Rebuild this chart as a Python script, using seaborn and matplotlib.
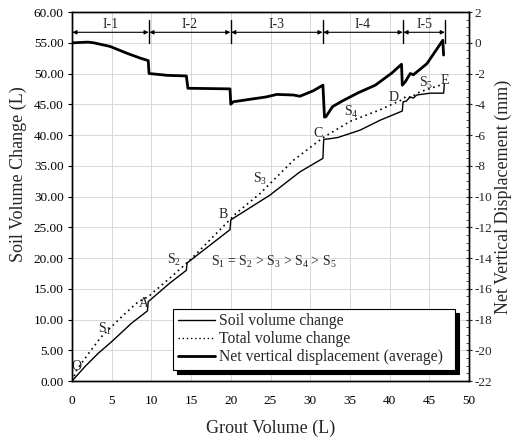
import numpy as np
import pandas as pd
import matplotlib
matplotlib.use("Agg")
import matplotlib.pyplot as plt
from matplotlib.lines import Line2D
from matplotlib.ticker import MultipleLocator, FormatStrFormatter
import seaborn as sns

# ---------------- data ----------------
soil_x = [0, 1.6, 3.3, 5.0, 7.5, 9.5, 9.6, 12.3, 14.4, 14.5, 17.0, 19.9, 20.0, 24.9,
          28.7, 31.6, 31.7, 32.5, 33.5, 36.3, 38.8, 41.6, 41.7, 42.1, 42.6, 43.0, 43.4,
          45.1, 46.8, 46.9]
soil_y = [0, 2.3, 4.5, 6.4, 9.4, 11.4, 12.9, 15.9, 18.0, 19.2, 21.7, 24.6, 26.2, 30.2,
          34.0, 36.2, 39.3, 39.4, 39.6, 40.8, 42.4, 43.9, 45.4, 45.5, 46.2, 46.0, 46.5,
          46.8, 46.8, 48.3]

total_x = [0, 0.6, 2.1, 3.7, 6.3, 8.35, 9.6, 13.0, 14.9, 20.7, 23.7, 27.9, 31.65,
           35.0, 38.8, 41.5, 42.1, 42.6, 43.8, 46.6]
total_y = [0, 1.8, 4.5, 7.2, 10.5, 12.9, 13.7, 17.5, 19.7, 27.3, 30.5, 35.9, 39.6,
           42.2, 44.1, 45.7, 46.3, 46.1, 47.0, 48.2]

disp_x = [0, 0.3, 2.0, 2.7, 4.8, 6.9, 8.6, 9.6, 9.7, 12.0, 14.4, 14.6, 19.9, 20.0,
          20.3, 24.5, 25.8, 27.9, 28.7, 30.4, 31.6, 31.8, 32.0, 32.8, 34.0, 36.1,
          38.2, 40.3, 41.5, 41.6, 42.0, 42.6, 43.0, 44.7, 46.7, 46.8]
disp_mm = [0.00, 0.00, 0.04, 0.00, -0.24, -0.68, -1.00, -1.16, -2.00, -2.12, -2.16,
           -2.96, -3.00, -4.00, -3.84, -3.52, -3.36, -3.40, -3.48, -3.12, -2.76,
           -4.84, -4.80, -4.16, -3.80, -3.24, -2.76, -1.96, -1.40, -2.76, -2.52,
           -2.00, -2.08, -1.36, 0.16, -0.80]

zone_bounds = [0, 9.7, 20.0, 31.6, 41.7, 47.0]
zone_labels = ["I-1", "I-2", "I-3", "I-4", "I-5"]

point_labels = ["O", "A", "B", "C", "D", "E"]
point_x = [0.6, 9.0, 19.1, 31.0, 40.5, 47.0]
point_y = [2.3, 12.6, 27.0, 40.2, 46.1, 48.9]

slope_labels = ["S$_1$", "S$_2$", "S$_3$", "S$_4$", "S$_5$"]
slope_x = [4.2, 12.8, 23.7, 35.2, 44.6]
slope_y = [8.4, 19.7, 32.8, 43.8, 48.5]

# ---------------- style ----------------
sns.set_style("white")
plt.rcParams["font.family"] = ["Liberation Serif", "DejaVu Serif"]
plt.rcParams["mathtext.fontset"] = "custom"
plt.rcParams["mathtext.rm"] = "Liberation Serif"
plt.rcParams["mathtext.it"] = "Liberation Serif"
plt.rcParams["axes.unicode_minus"] = False

fig = plt.figure(figsize=(5.17, 4.40), dpi=100)
ax = fig.add_axes([72 / 517, 1 - 381 / 440, 397 / 517, 369 / 440])
ax2 = ax.twinx()

df_soil = pd.DataFrame({"x": soil_x, "y": soil_y})
df_total = pd.DataFrame({"x": total_x, "y": total_y})
df_disp = pd.DataFrame({"x": disp_x, "y": disp_mm})

sns.lineplot(data=df_soil, x="x", y="y", ax=ax, color="black", lw=1.0,
             sort=False, estimator=None)
sns.lineplot(data=df_total, x="x", y="y", ax=ax, color="black", lw=1.2,
             linestyle=(0, (1, 2.2)), sort=False, estimator=None)
sns.lineplot(data=df_disp, x="x", y="y", ax=ax2, color="black", lw=2.0,
             sort=False, estimator=None)

# axes limits / ticks
ax.set_xlim(0, 50)
ax.set_ylim(0, 60)
ax.xaxis.set_major_locator(MultipleLocator(5))
ax.yaxis.set_major_locator(MultipleLocator(5))
ax.yaxis.set_major_formatter(FormatStrFormatter("%.2f"))
ax.grid(True, color="#d8d8d8", lw=0.7)
ax.set_axisbelow(True)
ax.tick_params(axis="both", direction="out", length=3, width=0.8,
               labelsize=9.5, colors="black", pad=3)
ax.tick_params(axis="x", pad=7)

ax2.set_ylim(-22, 2)
ax2.yaxis.set_major_locator(MultipleLocator(2))
ax2.yaxis.set_minor_locator(MultipleLocator(0.5))
ax2.tick_params(axis="y", which="major", direction="inout", length=5, width=0.8,
                labelsize=9.5, pad=1.5)
ax2.tick_params(axis="y", which="minor", direction="in", length=2.5, width=0.6)
ax2.grid(False)

for a in (ax, ax2):
    for s in a.spines.values():
        s.set_color("black")
        s.set_linewidth(1.0)
        s.set_visible(True)

ax.set_xlabel("Grout Volume (L)", fontsize=13, labelpad=9)
ax.set_ylabel("Soil Volume Change (L)", fontsize=13, labelpad=6)
ax.yaxis.set_label_coords(-0.113, 0.56)
ax2.set_ylabel("Net Vertical Displacement (mm)", fontsize=13, labelpad=2)

# zone annotations at top
for b in zone_bounds[1:]:
    ax.plot([b, b], [54.9, 58.7], color="black", lw=1.0, clip_on=False)
for i, lab in enumerate(zone_labels):
    x0, x1 = zone_bounds[i], zone_bounds[i + 1]
    ax.annotate("", xy=(x0 + 0.05, 56.7), xytext=(x1 - 0.05, 56.7),
                arrowprops=dict(arrowstyle="<|-|>", color="black", lw=0.8,
                                mutation_scale=6, shrinkA=0, shrinkB=0))
    ax.text((x0 + x1) / 2, 57.95, lab, ha="center", va="center", fontsize=10)

# point labels
for lab, px, py in zip(point_labels, point_x, point_y):
    ax.text(px, py, lab, ha="center", va="center", fontsize=10)
for lab, px, py in zip(slope_labels, slope_x, slope_y):
    ax.text(px, py, lab, ha="center", va="center", fontsize=10)
ax.text(25.4, 19.4, "S$_1$ = S$_2$ > S$_3$ > S$_4$ > S$_5$", ha="center",
        va="center", fontsize=10)

# legend
handles = [
    Line2D([], [], color="black", lw=1.0),
    Line2D([], [], color="black", lw=1.0, linestyle=(0, (1, 2))),
    Line2D([], [], color="black", lw=2.0),
]
labels = ["Soil volume change", "Total volume change",
          "Net vertical displacement (average)"]
leg = ax.legend(handles, labels, loc="lower left",
                bbox_to_anchor=(0.255, 0.03, 0.71, 0.17), mode="expand",
                fontsize=11.3, frameon=True, fancybox=False,
                shadow={"color": "black", "alpha": 1.0, "ox": 3, "oy": -3},
                borderpad=0.3, labelspacing=0.12, handlelength=2.35,
                handletextpad=0.25, borderaxespad=0)
leg.get_frame().set_edgecolor("black")
leg.get_frame().set_linewidth(0.8)
leg.get_frame().set_facecolor("white")
leg.set_zorder(10)

fig.savefig("out.png", dpi=100)
